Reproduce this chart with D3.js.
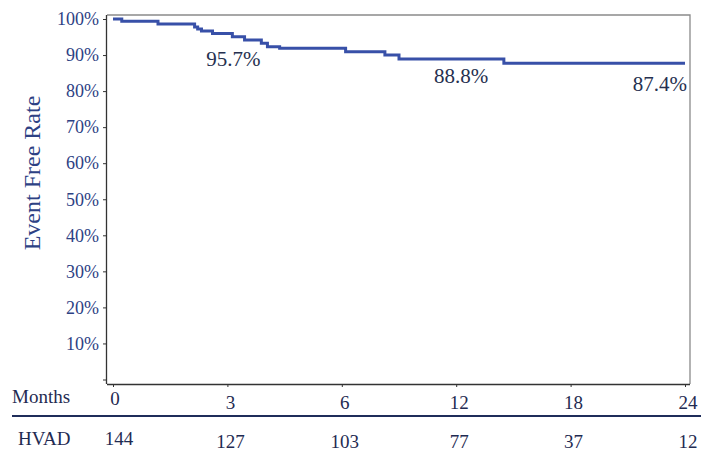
<!DOCTYPE html>
<html>
<head>
<meta charset="utf-8">
<script src="https://cdn.jsdelivr.net/npm/d3@7"></script>
<style>
  html, body { margin: 0; padding: 0; background: #fff; }
  svg { display: block; }
  svg text { font-family: "Liberation Serif", "Times New Roman", serif; }
</style>
</head>
<body>
<svg id="chart" width="701" height="452"></svg>
<script>
// ---- data ----
const monthTicks = [0, 3, 6, 12, 18, 24];
const atRisk = [144, 127, 103, 77, 37, 12];
const yTicks = [10, 20, 30, 40, 50, 60, 70, 80, 90, 100];
const stepMonths = [0, 0.23, 1.18, 2.14, 2.22, 2.32, 2.61, 3.13, 3.45, 3.89, 4.05, 4.37, 6.2, 8.26, 9.0, 14.5, 24];
const stepRates  = [100, 99.4, 98.6, 97.8, 97.2, 96.7, 96.0, 95.1, 94.2, 93.3, 92.3, 91.9, 90.9, 90.0, 88.9, 87.7, 87.7];
const annotMonths = [3, 12, 24];
const annotValues = [95.7, 88.8, 87.4];
const rowLabel = "HVAD";
const xLabel = "Months";
const yLabel = "Event Free Rate";

// ---- layout ----
const FONT = "'Liberation Serif', 'Times New Roman', serif";
const svg = d3.select("#chart");
const plot = { left: 107, right: 690, top: 15, bottom: 384 };
const xStart = 113, xEnd = 685;
const stepW = (xEnd - xStart) / (monthTicks.length - 1);

const x = d3.scaleLinear()
  .domain(monthTicks)
  .range(monthTicks.map((d, i) => xStart + i * stepW));
const y = d3.scaleLinear().domain([0, 100]).range([379.5, 19]);

const tickColor = "#2d4184";
const darkText = "#1f2b52";
const lineColor = "#3850a8";

// frame (top & right light)
svg.append("path")
  .attr("d", `M${plot.left},${plot.top}H${plot.right}V${plot.bottom}`)
  .attr("fill", "none").attr("stroke", "#8a8a8a").attr("stroke-width", 1.3);

// y axis
const yAxis = d3.axisLeft(y).tickValues([0].concat(yTicks)).tickSize(4).tickPadding(4)
  .tickFormat(d => d === 0 ? "" : d + "%");
const gy = svg.append("g").attr("transform", `translate(${plot.left},0)`).call(yAxis)
  .attr("font-family", FONT);
gy.select(".domain").attr("d", `M-0.5,${plot.top}V${plot.bottom}`).attr("stroke", "#333").attr("stroke-width", 1.3);
gy.selectAll(".tick line").attr("stroke", "#333");
gy.selectAll(".tick text").attr("fill", tickColor).attr("font-size", 18)
  .attr("font-family", FONT);

// x axis (bottom line + ticks)
const xAxis = d3.axisBottom(x).tickValues(monthTicks).tickSize(3).tickFormat("");
const gx = svg.append("g").attr("transform", `translate(0,${plot.bottom})`).call(xAxis);
gx.select(".domain").attr("d", `M${plot.left},0.5H${plot.right}`).attr("stroke", "#333").attr("stroke-width", 1.3);
gx.selectAll(".tick line").attr("stroke", "#333");

// y label
svg.append("text")
  .attr("transform", `translate(40,173) rotate(-90)`)
  .attr("text-anchor", "middle")
  .attr("font-family", FONT)
  .attr("font-size", 24)
  .attr("fill", tickColor)
  .text(yLabel);

// KM step line
const pts = stepMonths.map((m, i) => [m, stepRates[i]]);
svg.append("path")
  .datum(pts)
  .attr("fill", "none")
  .attr("stroke", lineColor)
  .attr("stroke-width", 3)
  .attr("d", d3.line().x(d => x(d[0])).y(d => y(d[1])).curve(d3.curveStepAfter));

// annotations
const annotDx = [6, 5, 2];
const annotDy = [31.5, 24, 27];
const annotAnchor = ["middle", "middle", "end"];
svg.selectAll("text.annot")
  .data(annotValues)
  .join("text")
  .attr("class", "annot")
  .attr("x", (d, i) => x(annotMonths[i]) + annotDx[i])
  .attr("y", (d, i) => y(d) + annotDy[i])
  .attr("text-anchor", (d, i) => annotAnchor[i])
  .attr("font-family", FONT)
  .attr("font-size", 21)
  .attr("fill", "#26304f")
  .text(d => d.toFixed(1) + "%");

// bottom table
svg.append("text").attr("x", 12).attr("y", 403).attr("font-family", FONT)
  .attr("font-size", 19).attr("fill", darkText).text(xLabel);
svg.selectAll("text.mt")
  .data(monthTicks)
  .join("text")
  .attr("class", "mt")
  .attr("x", d => x(d) + (d === 0 ? 2 : 3))
  .attr("y", d => d === 0 ? 405 : 409)
  .attr("text-anchor", "middle")
  .attr("font-family", FONT)
  .attr("font-size", 19)
  .attr("fill", darkText)
  .text(d => d);

svg.append("line")
  .attr("x1", 12).attr("x2", 701)
  .attr("y1", 416).attr("y2", 416)
  .attr("stroke", "#1f2d5a").attr("stroke-width", 2);

svg.append("text").attr("x", 18).attr("y", 445).attr("font-family", FONT)
  .attr("font-size", 19).attr("fill", darkText).text(rowLabel);
svg.selectAll("text.ar")
  .data(atRisk)
  .join("text")
  .attr("class", "ar")
  .attr("x", (d, i) => x(monthTicks[i]) + (i === 0 ? 6 : 3))
  .attr("y", (d, i) => i === 0 ? 445 : 448)
  .attr("text-anchor", "middle")
  .attr("font-family", FONT)
  .attr("font-size", 19)
  .attr("fill", darkText)
  .text(d => d);
</script>
</body>
</html>
